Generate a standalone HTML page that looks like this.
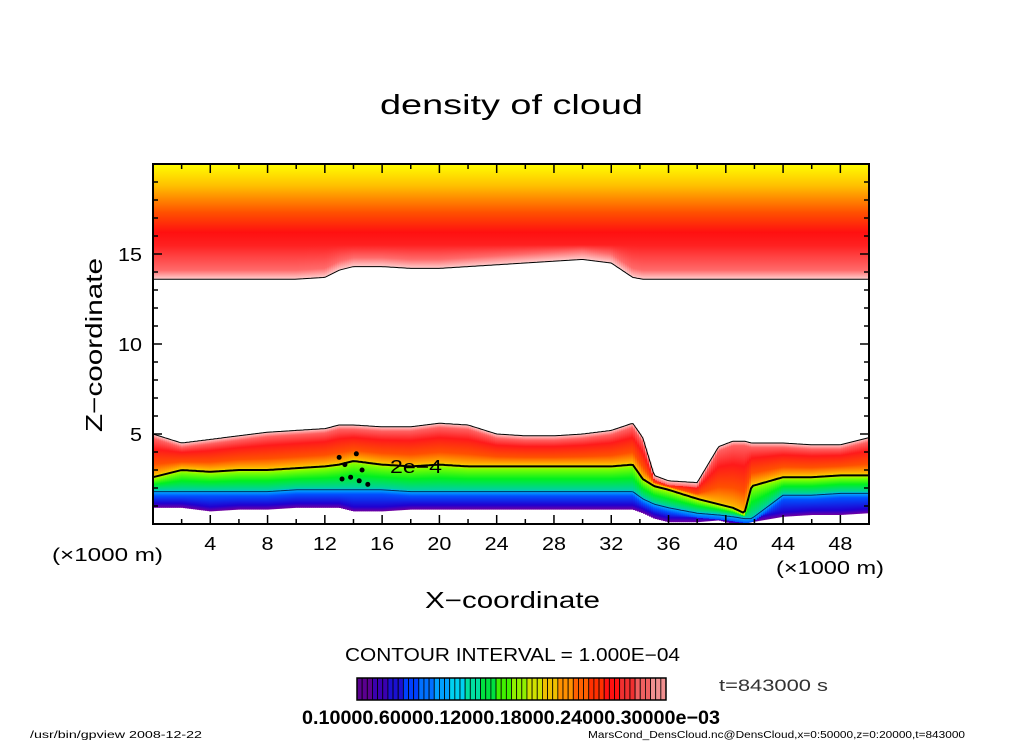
<!DOCTYPE html>
<html><head><meta charset="utf-8"><style>
html,body{margin:0;padding:0;background:#fff;}
svg{display:block;font-family:"Liberation Sans",sans-serif;}
</style></head><body>
<svg id="chart" width="1024" height="741" viewBox="0 0 1024 741" xmlns="http://www.w3.org/2000/svg">
<defs id="defs"></defs>
<text x="380" y="114" font-size="28" fill="#000" textLength="263" lengthAdjust="spacingAndGlyphs">density of cloud</text>
<g id="field"></g>
<g id="axes"></g>
<text transform="translate(102,432) rotate(-90)" font-size="23" textLength="174" lengthAdjust="spacingAndGlyphs">Z−coordinate</text>
<text x="425" y="608" font-size="23" textLength="175" lengthAdjust="spacingAndGlyphs">X−coordinate</text>
<text x="52" y="561" font-size="18" textLength="111" lengthAdjust="spacingAndGlyphs">(×1000 m)</text>
<text x="776" y="574" font-size="18" textLength="108" lengthAdjust="spacingAndGlyphs">(×1000 m)</text>
<text x="345" y="661" font-size="18" textLength="335" lengthAdjust="spacingAndGlyphs">CONTOUR INTERVAL = 1.000E−04</text>
<g id="cbar"></g>
<text x="302" y="724" font-size="19" font-weight="bold" textLength="418" lengthAdjust="spacingAndGlyphs">0.10000.60000.12000.18000.24000.30000e−03</text>
<text x="719" y="691" font-size="17" fill="#333" textLength="109" lengthAdjust="spacingAndGlyphs">t=843000 s</text>
<text x="30" y="738" font-size="10" textLength="172" lengthAdjust="spacingAndGlyphs">/usr/bin/gpview   2008-12-22</text>
<text x="588" y="738" font-size="10" textLength="377" lengthAdjust="spacingAndGlyphs">MarsCond_DensCloud.nc@DensCloud,x=0:50000,z=0:20000,t=843000</text>
</svg>
<script>
// data (km)
const xs      = [0,2,4,6,8,10,12,13,14,16,18,20,22,24,26,28,30,32,33.5,34.2,35,36,38,39.5,40.5,41.3,41.8,44,46,48,50];
const upperBot= [13.6,13.6,13.6,13.6,13.6,13.6,13.7,14.1,14.3,14.3,14.2,14.2,14.3,14.4,14.5,14.6,14.7,14.5,13.7,13.6,13.6,13.6,13.6,13.6,13.6,13.6,13.6,13.6,13.6,13.6,13.6];
const lowTop  = [5.0,4.5,4.7,4.9,5.1,5.2,5.3,5.5,5.5,5.4,5.4,5.6,5.5,5.0,4.9,4.9,5.0,5.2,5.6,4.8,2.7,2.4,2.3,4.3,4.6,4.6,4.5,4.5,4.4,4.4,4.8];
const contour2= [2.6,3.0,2.9,3.0,3.0,3.1,3.2,3.3,3.5,3.3,3.2,3.3,3.2,3.2,3.2,3.2,3.2,3.2,3.3,2.5,2.1,1.9,1.4,1.1,0.9,0.6,2.1,2.6,2.6,2.7,2.7];
const contour1= [1.8,1.8,1.8,1.8,1.8,1.9,1.9,1.9,1.9,1.9,1.8,1.8,1.8,1.8,1.8,1.8,1.8,1.8,1.8,1.4,1.1,0.9,0.6,0.5,0.4,0.3,0.3,1.6,1.6,1.7,1.7];
const lowBot  = [0.9,0.9,0.7,0.8,0.8,0.9,0.9,0.9,0.7,0.7,0.8,0.8,0.8,0.8,0.8,0.8,0.8,0.8,0.8,0.6,0.3,0.1,0.1,0.2,0.0,0.0,0.1,0.4,0.5,0.5,0.6];
const xTicks = [4,8,12,16,20,24,28,32,36,40,44,48];
const yTicks = [5,10,15];
const cbarColors = ["#5a0090","#3a00b0","#1a10d0","#0040ff","#0070ff","#00a0ff","#00d0f0","#00e0a0","#00e040","#40f000","#90f000","#d0e000","#f0c000","#ff9000","#ff6000","#ff3000","#ff1010","#f03030","#f06060","#f09090"];

const NS="http://www.w3.org/2000/svg";
const X0=153,X1=869,Y0=524,Y1=164;
const sx=v=>X0+(v-0)/(50-0)*(X1-X0);
const sy=v=>Y0-(v-0)/(20-0)*(Y0-Y1);
function interp(arr,x){for(let i=0;i<xs.length-1;i++){if(x>=xs[i]&&x<=xs[i+1]){const t=(x-xs[i])/(xs[i+1]-xs[i]);return arr[i]+t*(arr[i+1]-arr[i]);}}return arr[arr.length-1];}
function el(tag,attrs,parent){const e=document.createElementNS(NS,tag);for(const k in attrs)e.setAttribute(k,attrs[k]);parent.appendChild(e);return e;}
const defs=document.getElementById('defs');
const field=document.getElementById('field');
const step=2;
let gid=0;
for(let px=X0;px<X1;px+=step){
  const x=(px+step/2-X0)/(X1-X0)*50;
  const ub=interp(upperBot,x);
  const g1=el('linearGradient',{id:'u'+gid,x1:0,y1:0,x2:0,y2:1},defs);
  const h=20-ub;
  [[0,'#ffff00'],[(20-18.8)/h,'#ffc000'],[(20-17.3)/h,'#ff5000'],[(20-16.2)/h,'#ff1010'],[(20-15.5)/h,'#ff2020'],[Math.max(0,(20-(ub+0.5))/h),'#ff6a6a'],[1,'#ffd0d0']].forEach(s=>el('stop',{offset:Math.min(1,Math.max(0,s[0])),'stop-color':s[1]},g1));
  const r1=el('rect',{x:px,y:sy(20),width:step+0.5,height:sy(ub)-sy(20),fill:'url(#u'+gid+')'},field);
  
  
  const lt=interp(lowTop,x),c2=interp(contour2,x),c1=interp(contour1,x),lb=interp(lowBot,x);
  const H=lt-lb; const f=v=>Math.min(1,Math.max(0,(lt-v)/H));
  const g2=el('linearGradient',{id:'l'+gid,x1:0,y1:0,x2:0,y2:1},defs);
  const d=lt-c2;
  [[f(lt),'#ffd0d0'],[f(lt-0.25),'#ff6060'],[f(lt-d*0.35),'#ff1a1a'],[f(lt-d*0.7),'#ff5000'],[f(c2+0.15),'#ffb000'],[f(c2),'#e8e800'],[f(c2-0.15),'#80ff00'],[f((c2+c1)/2),'#00f020'],[f(c1+0.1),'#00d0a0'],[f(c1),'#00b0ff'],[f(c1-0.25),'#0050ff'],[f(lb+0.25),'#2000d0'],[1,'#7000a0']].forEach(s=>el('stop',{offset:s[0],'stop-color':s[1]},g2));
  const r2=el('rect',{x:px,y:sy(lt),width:step+0.5,height:sy(lb)-sy(lt),fill:'url(#l'+gid+')'},field);
  
  
  gid++;
}
function line(arr,w,col,name){
  let dstr='';for(let px=X0;px<=X1;px+=2){const x=(px-X0)/(X1-X0)*50;dstr+=(px===X0?'M':'L')+px+','+sy(interp(arr,x)).toFixed(1);}
  const p=el('path',{d:dstr,fill:'none',stroke:col,'stroke-width':w},field);
  
  
}
line(upperBot,1,'#000','upper-cloud-edge');
line(lowTop,1,'#000','lower-cloud-edge');
line(contour2,2,'#000','contour-2e-4');
line(contour1,1,'#003060','contour-1e-4');
[[13,3.7],[13.4,3.3],[13.8,2.6],[14.4,2.4],[14.6,3.0],[13.2,2.5],[14.2,3.9],[15,2.2]].forEach(p=>{
  const c=el('circle',{cx:sx(p[0]),cy:sy(p[1]),r:2.5,fill:'#000'},field);
  
  
});
const lbl=el('text',{x:390,y:473,'font-size':18,fill:'#000',textLength:52,lengthAdjust:'spacingAndGlyphs'},field);lbl.textContent='2e−4';


const axes=document.getElementById('axes');
const fr=el('rect',{x:X0,y:Y1,width:X1-X0,height:Y0-Y1,fill:'none',stroke:'#000','stroke-width':2},axes);


for(let v=2;v<50;v+=2){const major=xTicks.includes(v);const L=major?9:5;
  el('line',{x1:sx(v),x2:sx(v),y1:Y0,y2:Y0-L,stroke:'#000','stroke-width':1.5},axes);
  el('line',{x1:sx(v),x2:sx(v),y1:Y1,y2:Y1+L,stroke:'#000','stroke-width':1.5},axes);}
for(let v=1;v<20;v++){const major=yTicks.includes(v);const L=major?9:5;
  el('line',{x1:X0,x2:X0+L,y1:sy(v),y2:sy(v),stroke:'#000','stroke-width':1.5},axes);
  el('line',{x1:X1,x2:X1-L,y1:sy(v),y2:sy(v),stroke:'#000','stroke-width':1.5},axes);}
xTicks.forEach(v=>{const s=String(v);const t=el('text',{x:sx(v),y:550,'text-anchor':'middle','font-size':18,textLength:s.length*12,lengthAdjust:'spacingAndGlyphs'},axes);t.textContent=s;
  
  });
yTicks.forEach(v=>{const s=String(v);const t=el('text',{x:142,y:sy(v)+7,'text-anchor':'end','font-size':18,textLength:s.length*12,lengthAdjust:'spacingAndGlyphs'},axes);t.textContent=s;
  
  });
const cb=document.getElementById('cbar');
const CX0=357,CX1=666,CY=678,CH=22,n=cbarColors.length*3;
for(let i=0;i<n;i++){const w=(CX1-CX0)/n;const c=cbarColors[Math.floor(i/3)];
  const r=el('rect',{x:CX0+i*w,y:CY,width:w,height:CH,fill:c,stroke:'#000','stroke-width':0.8},cb);
  
  }
el('rect',{x:CX0,y:CY,width:CX1-CX0,height:CH,fill:'none',stroke:'#000','stroke-width':1.5},cb);
</script>
</body></html>
